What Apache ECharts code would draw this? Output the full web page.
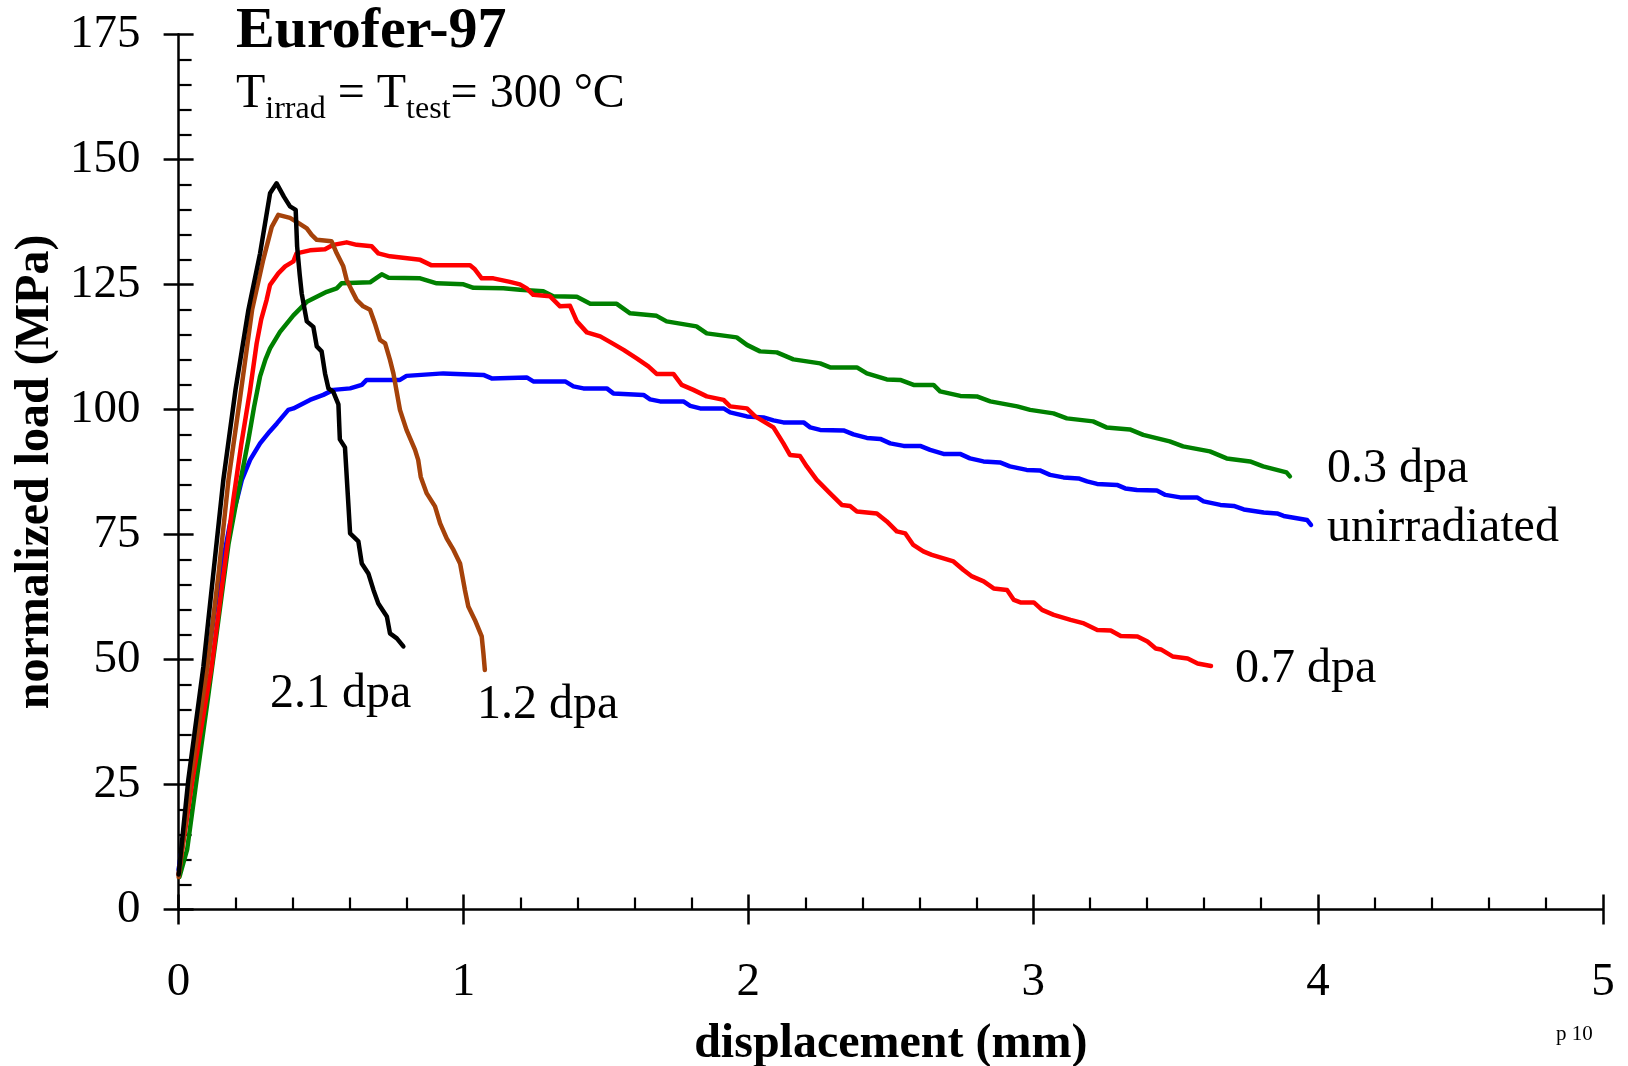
<!DOCTYPE html>
<html><head><meta charset="utf-8">
<script src="https://cdn.jsdelivr.net/npm/echarts@6/dist/echarts.min.js"></script>
<style>html,body{margin:0;padding:0;background:#fff}#c{width:1628px;height:1066px}</style>
</head><body><div id="c"></div>
<script>
// ---- data: [displacement (mm), normalized load (MPa)] ----
const unirradiated = [[0.0,8],[0.03,19],[0.06,32],[0.1,49],[0.14,65],[0.18,77],[0.205,82],[0.222,85.9],[0.251,89.9],[0.286,93.2],[0.32,95.6],[0.345,97.2],[0.385,99.9],[0.403,100.2],[0.461,101.9],[0.508,102.9],[0.543,103.9],[0.602,104.2],[0.643,104.9],[0.66,105.9],[0.777,105.9],[0.8,106.7],[0.929,107.2],[1.07,106.9],[1.099,106.2],[1.222,106.4],[1.245,105.6],[1.357,105.6],[1.386,104.6],[1.421,104.2],[1.503,104.2],[1.526,103.2],[1.632,102.9],[1.655,102.0],[1.69,101.6],[1.772,101.6],[1.796,100.7],[1.831,100.2],[1.913,100.2],[1.936,99.4],[1.995,98.6],[2.053,98.4],[2.088,97.8],[2.123,97.4],[2.194,97.4],[2.217,96.4],[2.252,95.9],[2.334,95.8],[2.369,95.0],[2.416,94.3],[2.463,94.1],[2.498,93.2],[2.545,92.7],[2.603,92.7],[2.638,91.9],[2.685,91.1],[2.743,91.1],[2.778,90.2],[2.825,89.6],[2.883,89.4],[2.918,88.6],[2.977,87.9],[3.023,87.8],[3.059,86.9],[3.106,86.4],[3.159,86.2],[3.189,85.6],[3.224,85.1],[3.294,84.9],[3.323,84.2],[3.364,83.9],[3.434,83.8],[3.464,82.9],[3.516,82.4],[3.575,82.4],[3.598,81.6],[3.657,80.9],[3.704,80.7],[3.739,80.0],[3.809,79.4],[3.856,79.2],[3.879,78.7],[3.961,77.9],[3.975,76.9]];
const dpa03 = [[0.003,6.5],[0.03,12],[0.063,25.9],[0.1,41],[0.14,58],[0.175,73],[0.204,81.9],[0.225,88],[0.245,93.9],[0.265,100.5],[0.286,106.6],[0.305,110],[0.321,112.2],[0.356,115.5],[0.403,118.8],[0.45,121.5],[0.485,122.5],[0.52,123.5],[0.555,124.2],[0.572,125.2],[0.672,125.4],[0.713,127.0],[0.737,126.3],[0.848,126.2],[0.906,125.2],[1.0,125.0],[1.035,124.3],[1.14,124.2],[1.198,123.9],[1.28,123.6],[1.315,122.6],[1.398,122.5],[1.445,121.1],[1.538,121.1],[1.585,119.2],[1.678,118.7],[1.713,117.6],[1.818,116.6],[1.854,115.2],[1.959,114.4],[1.995,112.9],[2.041,111.6],[2.1,111.4],[2.158,110.0],[2.252,109.2],[2.287,108.4],[2.381,108.4],[2.416,107.2],[2.486,106.0],[2.533,105.9],[2.58,104.9],[2.65,104.9],[2.673,103.6],[2.744,102.7],[2.802,102.6],[2.849,101.6],[2.944,100.6],[2.989,99.9],[3.071,99.2],[3.118,98.2],[3.21,97.6],[3.257,96.4],[3.339,96.0],[3.386,94.9],[3.479,93.6],[3.526,92.6],[3.62,91.6],[3.679,90.2],[3.761,89.6],[3.807,88.6],[3.889,87.4],[3.901,86.6]];
const dpa07 = [[0,7],[0.049,26],[0.116,48.6],[0.16,68],[0.192,81.9],[0.22,93],[0.25,103.5],[0.274,113.2],[0.29,118],[0.309,121.9],[0.321,124.9],[0.35,127.2],[0.374,128.6],[0.403,129.6],[0.414,131.2],[0.461,131.8],[0.514,132.0],[0.543,132.9],[0.59,133.4],[0.625,132.9],[0.678,132.6],[0.701,131.2],[0.742,130.6],[0.848,129.9],[0.888,128.8],[1.023,128.8],[1.04,128.0],[1.064,126.2],[1.105,126.2],[1.163,125.5],[1.198,125.0],[1.222,124.2],[1.245,122.9],[1.304,122.6],[1.339,120.6],[1.374,120.7],[1.398,117.6],[1.433,115.4],[1.48,114.6],[1.526,113.1],[1.562,111.9],[1.608,110.2],[1.649,108.6],[1.678,107.1],[1.737,107.1],[1.766,104.9],[1.807,103.9],[1.854,102.6],[1.913,101.9],[1.936,100.6],[1.995,100.2],[2.024,98.6],[2.088,96.4],[2.123,93.2],[2.146,90.9],[2.181,90.7],[2.205,88.6],[2.24,85.9],[2.287,83.2],[2.328,80.9],[2.357,80.7],[2.381,79.6],[2.451,79.2],[2.486,77.6],[2.521,75.6],[2.551,75.2],[2.579,72.9],[2.614,71.6],[2.644,70.9],[2.72,69.6],[2.755,67.9],[2.785,66.6],[2.826,65.6],[2.861,64.2],[2.908,63.9],[2.932,61.9],[2.955,61.4],[3.002,61.4],[3.031,59.9],[3.072,58.9],[3.131,57.9],[3.178,57.2],[3.225,55.9],[3.272,55.8],[3.307,54.7],[3.366,54.6],[3.401,53.6],[3.43,52.2],[3.448,52.0],[3.489,50.6],[3.542,50.2],[3.577,49.2],[3.624,48.7]];
const dpa12 = [[0,6.5],[0.042,25.9],[0.101,48.6],[0.14,67],[0.175,85.9],[0.215,102],[0.258,119.9],[0.297,129.9],[0.327,136.5],[0.35,138.9],[0.391,138.3],[0.42,137.3],[0.45,136.2],[0.467,134.9],[0.485,133.9],[0.537,133.6],[0.555,131.2],[0.578,128.6],[0.59,125.9],[0.607,123.9],[0.625,121.9],[0.648,120.6],[0.672,119.9],[0.689,117.2],[0.707,113.9],[0.725,113.2],[0.742,109.9],[0.754,107.2],[0.777,99.9],[0.8,95.9],[0.83,91.9],[0.841,89.9],[0.85,86.5],[0.871,83.2],[0.9,80.6],[0.918,77.2],[0.941,74.2],[0.965,71.9],[0.988,69.2],[1.005,63.9],[1.017,60.6],[1.04,57.9],[1.064,54.6],[1.07,51.2],[1.075,47.9]];
const dpa21 = [[0,7],[0.034,25.9],[0.087,48.6],[0.157,85.9],[0.2,104],[0.245,119.9],[0.286,131.2],[0.321,143.2],[0.344,145.2],[0.37,142.5],[0.391,140.6],[0.411,139.9],[0.416,132.6],[0.425,127],[0.432,123.2],[0.45,117.6],[0.473,116.5],[0.485,112.6],[0.502,111.6],[0.514,107.2],[0.526,104.2],[0.543,103.5],[0.561,101],[0.566,94],[0.584,92.4],[0.602,75.2],[0.631,73.6],[0.643,69.2],[0.666,67.2],[0.684,63.9],[0.701,61.2],[0.731,58.6],[0.742,55.2],[0.766,54.2],[0.789,52.6]];

const seriesNames = ['unirradiated','0.3 dpa','0.7 dpa','1.2 dpa','2.1 dpa'];
const seriesColors = ['#0000ff','#008000','#ff0000','#a5420a','#000000'];
const seriesData = [unirradiated, dpa03, dpa07, dpa12, dpa21];

const xRange = [0, 5]; const xStep = 1;
const yRange = [0, 175]; const yStep = 25;

const FONT = '"Liberation Serif","Times New Roman",serif';
const chart = echarts.init(document.getElementById('c'), null, {renderer:'canvas'});

const ctx = document.createElement('canvas').getContext('2d');
function tw(t, fs){ ctx.font = fs + 'px "Liberation Serif"'; return ctx.measureText(t).width; }
function midY(baseline, fs){ return baseline - 0.3375*fs; }

const axisLS = {color:'#000', width:2.5};
const graphics = [];
function addText(t, x, baseline, fs, weight){
  graphics.push({type:'text', x:x, y:midY(baseline,fs), silent:true,
    style:{text:t, fill:'#000', fontSize:fs, fontFamily:FONT, fontWeight:weight||'normal', align:'left', verticalAlign:'middle'}});
}
addText('Eurofer-97', 236, 51.5, 58, 'bold');
// subtitle with subscripts
(function(){
  const parts = [['T',48,0],['irrad',32,1],[' = ',48,0],['T',48,0],['test',32,1],['= 300 °C',48,0]];
  let x = 236;
  parts.forEach(p => { addText(p[0], x, p[2] ? 120 : 110.5, p[1]); x += tw(p[0], p[1]); });
})();
addText('0.3 dpa', 1327, 486, 48);
addText('unirradiated', 1327, 545, 48);
addText('0.7 dpa', 1235, 685.5, 48);
addText('2.1 dpa', 270, 710.5, 48);
addText('1.2 dpa', 477, 722, 48);
addText('p 10', 1556, 1042, 21);

chart.setOption({
  animation:false,
  backgroundColor:'#fff',
  grid:{left:178.6, right:25, top:34.3, bottom:156.5, containLabel:false, outerBoundsMode:'none'},
  xAxis:[
    {type:'value', min:xRange[0], max:xRange[1], interval:xStep, position:'bottom',
     axisLine:{show:true, onZero:false, lineStyle:axisLS},
     axisTick:{show:true, inside:true, length:15, lineStyle:axisLS},
     minorTick:{show:true, splitNumber:5, length:12, lineStyle:{color:'#000', width:2.2}},
     axisLabel:{margin:50, fontFamily:FONT, fontSize:47, color:'#000', showMinLabel:true, showMaxLabel:true},
     splitLine:{show:false}, minorSplitLine:{show:false},
     name:'displacement (mm)', nameLocation:'middle', nameGap:115,
     nameTextStyle:{fontFamily:FONT, fontSize:48, lineHeight:40, fontWeight:'bold', color:'#000'}},
    {type:'value', min:xRange[0], max:xRange[1], interval:xStep, position:'bottom',
     axisLine:{show:false, onZero:false}, axisTick:{show:true, inside:false, length:15, lineStyle:axisLS},
     axisLabel:{show:false}, splitLine:{show:false}}
  ],
  yAxis:[
    {type:'value', min:yRange[0], max:yRange[1], interval:yStep, position:'left',
     axisLine:{show:true, onZero:false, lineStyle:axisLS},
     axisTick:{show:true, inside:true, length:15, lineStyle:axisLS},
     minorTick:{show:true, splitNumber:5, length:13, lineStyle:{color:'#000', width:2.2}},
     axisLabel:{margin:38, fontFamily:FONT, fontSize:47, color:'#000', showMinLabel:true, showMaxLabel:true},
     splitLine:{show:false}, minorSplitLine:{show:false},
     name:'normalized load (MPa)', nameLocation:'middle', nameGap:118,
     nameTextStyle:{fontFamily:FONT, fontSize:48, fontWeight:'bold', color:'#000'}},
    {type:'value', min:yRange[0], max:yRange[1], interval:yStep, position:'left', offset:0,
     axisLine:{show:false, onZero:false}, axisTick:{show:true, inside:false, length:15, lineStyle:axisLS},
     axisLabel:{show:false}, splitLine:{show:false}}
  ],
  series: seriesData.map((d,i)=>({
    name:seriesNames[i], type:'line', data:d, xAxisIndex:0, yAxisIndex:0,
    showSymbol:false, symbol:'none', smooth:false, z:2+i,
    lineStyle:{color:seriesColors[i], width:4.5, join:'round', cap:'round'}
  })),
  graphic: graphics
});
</script></body></html>
